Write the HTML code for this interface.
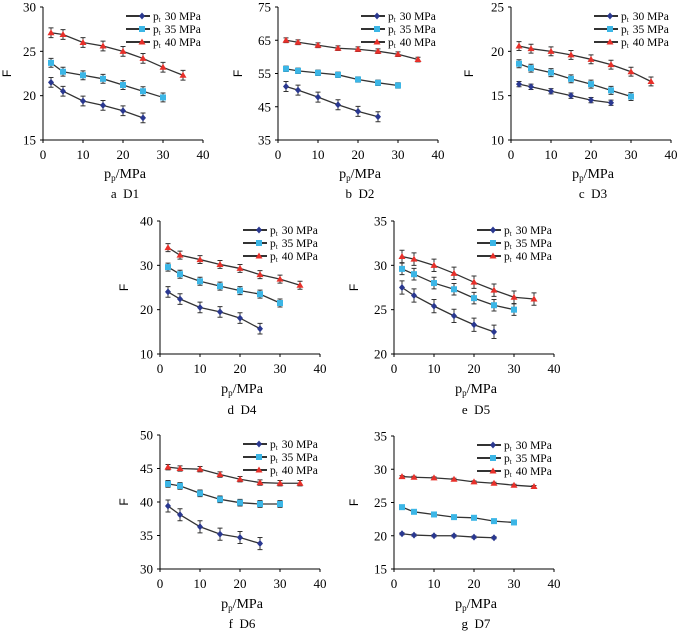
<!DOCTYPE html>
<html><head><meta charset="utf-8"><style>
body{margin:0;background:#fff}
svg{display:block}
svg text{font-family:"Liberation Serif","Times New Roman",serif}
</style></head><body>
<svg id="c" width="700" height="633" viewBox="0 0 700 633" font-family="Liberation Serif, serif"></svg>
<script>
const xVals=[2,5,10,15,20,25,30,35];
const seriesLabels=["30 MPa","35 MPa","40 MPa"];
const panelCaptions=["a\u00a0\u00a0D1","b\u00a0\u00a0D2","c\u00a0\u00a0D3","d\u00a0\u00a0D4","e\u00a0\u00a0D5","f\u00a0\u00a0D6","g\u00a0\u00a0D7"];
const yTicksA=[15,20,25,30], yTicksB=[35,45,55,65,75], yTicksC=[10,15,20,25], yTicksD=[10,20,30,40], yTicksE=[20,25,30,35], yTicksF=[30,35,40,45,50], yTicksG=[15,20,25,30,35];
const xTicks=[0,10,20,30,40];
const d1_30=[21.5,20.5,19.4,18.9,18.3,17.5], d1_35=[23.7,22.7,22.3,21.9,21.2,20.5,19.8], d1_40=[27.1,26.9,26.0,25.6,25.0,24.2,23.2,22.3];
const d2_30=[51.1,50.0,47.9,45.6,43.6,42.0], d2_35=[56.4,55.8,55.2,54.6,53.2,52.2,51.4], d2_40=[65.0,64.4,63.5,62.6,62.3,61.7,60.8,59.2];
const d3_30=[16.3,16.0,15.5,15.0,14.5,14.2], d3_35=[18.6,18.1,17.6,16.9,16.3,15.6,14.9], d3_40=[20.6,20.3,20.0,19.6,19.1,18.5,17.7,16.6];
const d4_30=[24.0,22.4,20.5,19.5,18.1,15.7], d4_35=[29.6,28.0,26.4,25.3,24.3,23.5,21.5], d4_40=[34.0,32.3,31.3,30.2,29.3,27.9,26.9,25.5];
const d5_30=[27.5,26.6,25.4,24.3,23.3,22.5], d5_35=[29.6,29.0,28.0,27.3,26.3,25.5,25.0], d5_40=[31.0,30.7,30.0,29.1,28.1,27.2,26.4,26.2];
const d6_30=[39.4,38.1,36.3,35.2,34.7,33.8], d6_35=[42.7,42.4,41.3,40.4,39.9,39.7,39.7], d6_40=[45.2,45.0,44.9,44.1,43.4,42.9,42.8,42.8];
const d7_30=[20.3,20.1,20.0,20.0,19.8,19.7], d7_35=[24.3,23.6,23.2,22.8,22.7,22.2,22.0], d7_40=[28.9,28.8,28.7,28.5,28.1,27.9,27.6,27.4];
const errs=[[0.55,0.5,0.55],[1.5,0.8,0.7],[0.3,0.45,0.5],[1.2,0.9,0.9],[0.75,0.65,0.7],[0.9,0.5,0.4],[0.15,0.3,0.15]];

const panels=[
 {x0:43,x1:203,yt:7,yb:140,ticks:yTicksA,s:[d1_30,d1_35,d1_40],fx:7,xl:178,cap:198},
 {x0:278,x1:438,yt:7,yb:140,ticks:yTicksB,s:[d2_30,d2_35,d2_40],fx:238,xl:178,cap:198},
 {x0:511,x1:671,yt:7,yb:140,ticks:yTicksC,s:[d3_30,d3_35,d3_40],fx:469,xl:178,cap:198},
 {x0:160,x1:320,yt:221,yb:354,ticks:yTicksD,s:[d4_30,d4_35,d4_40],fx:124,xl:393,cap:414},
 {x0:394,x1:554,yt:221,yb:354,ticks:yTicksE,s:[d5_30,d5_35,d5_40],fx:354,xl:393,cap:414},
 {x0:160,x1:320,yt:435,yb:569,ticks:yTicksF,s:[d6_30,d6_35,d6_40],fx:124,xl:608,cap:628},
 {x0:394,x1:554,yt:436,yb:569,ticks:yTicksG,s:[d7_30,d7_35,d7_40],fx:354,xl:608,cap:628}
];
const colors=["#2a3890","#3cb6e6","#e8302a"];
const svg=document.getElementById('c');
const NS='http://www.w3.org/2000/svg';
function mk(t,a,p){const e=document.createElementNS(NS,t);for(const k in a)e.setAttribute(k,a[k]);(p||svg).appendChild(e);return e;}
function marker(k,x,y,g){
 let e;
 if(k===0)e=mk('polygon',{points:`${x},${y-3.5} ${x+3},${y} ${x},${y+3.5} ${x-3},${y}`,fill:colors[0]},g);
 else if(k===1)e=mk('rect',{x:x-3,y:y-3,width:6,height:6,fill:colors[1]},g);
 else e=mk('polygon',{points:`${x},${y-3.5} ${x+3.5},${y+2.5} ${x-3.5},${y+2.5}`,fill:colors[2]},g);
 return e;
}
panels.forEach((p,pi)=>{
 const g=mk('g',{});
 
 
 const ymin=p.ticks[0],ymax=p.ticks[p.ticks.length-1];
 const sx=v=>p.x0+(v-0)/40*(p.x1-p.x0);
 const sy=v=>p.yb-(v-ymin)/(ymax-ymin)*(p.yb-p.yt);
 const ax=mk('path',{d:`M${p.x0},${p.yt}V${p.yb}H${p.x1}`,stroke:'#000',fill:'none','stroke-width':1},g);
 
 
 p.ticks.forEach(t=>{
  mk('line',{x1:p.x0-3,x2:p.x0,y1:sy(t),y2:sy(t),stroke:'#000'},g);
  const tx=mk('text',{x:p.x0-7,y:sy(t)+4.5,'text-anchor':'end','font-size':13},g);tx.textContent=t;
  
  
 });
 xTicks.forEach(t=>{
  mk('line',{x1:sx(t),x2:sx(t),y1:p.yb,y2:p.yb+3,stroke:'#000'},g);
  const tx=mk('text',{x:sx(t),y:p.yb+19,'text-anchor':'middle','font-size':13},g);tx.textContent=t;
  
  
 });
 const fy=(p.yt+p.yb)/2;
 const fl=mk('text',{x:p.fx+4,y:fy,transform:`rotate(-90 ${p.fx+4} ${fy})`,'text-anchor':'middle','font-size':12,style:'font-family:"Liberation Sans",sans-serif'},g);
 fl.textContent='F';
 
 
 const cx=(p.x0+p.x1)/2+2;
 const xl=mk('text',{x:cx,y:p.xl,'text-anchor':'middle','font-size':14},g);
 xl.innerHTML='p<tspan font-size="9" dy="3">p</tspan><tspan dy="-3">/MPa</tspan>';
 
 
 const cp=mk('text',{x:cx,y:p.cap,'text-anchor':'middle','font-size':13},g);
 cp.textContent=panelCaptions[pi];
 
 
 p.s.forEach((vals,k)=>{
  const sg=mk('g',{},g);
  
  
  const pts=vals.map((v,i)=>sx(xVals[i])+','+sy(v)).join(' ');
  mk('polyline',{points:pts,fill:'none',stroke:'#333','stroke-width':1.3},sg);
  const e=errs[pi][k];
  vals.forEach((v,i)=>{
   const x=sx(xVals[i]);
   mk('path',{d:`M${x},${sy(v+e)}V${sy(v-e)}M${x-2.5},${sy(v+e)}h5M${x-2.5},${sy(v-e)}h5`,stroke:'#333','stroke-width':1,fill:'none'},sg);
   const m=marker(k,x,sy(v),sg);
   
   
  });
 });
 const lg=mk('g',{},g);
 
 
 seriesLabels.forEach((lab,k)=>{
  const ly=p.yt+9+k*13;
  const lx=p.x0+83;
  mk('line',{x1:lx,x2:lx+24,y1:ly,y2:ly,stroke:'#333','stroke-width':2},lg);
  marker(k,lx+16,ly,lg);
  const t=mk('text',{x:lx+27,y:ly+4,'font-size':11.5},lg);
  t.innerHTML='p<tspan font-size="7" dy="2">t</tspan><tspan dy="-2" dx="4">'+lab+'</tspan>';
  
  
 });
});
</script>
</body></html>
